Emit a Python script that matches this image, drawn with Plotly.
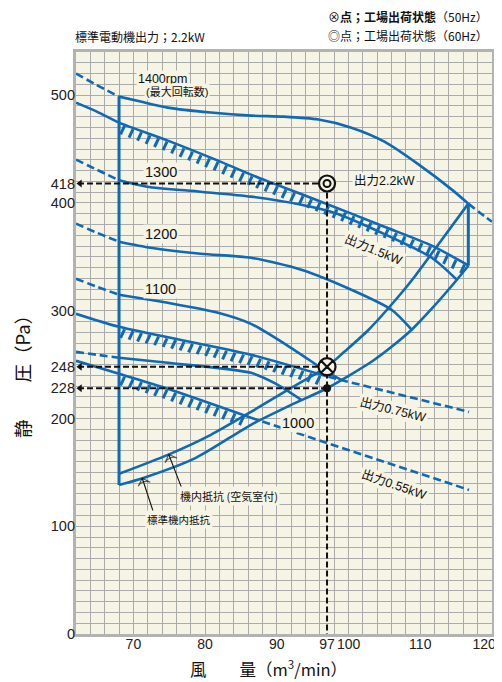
import numpy as np
import plotly.graph_objects as go

# ---------------- data ----------------
X_RANGE = [62, 120]
Y_RANGE = [0, 540]
X_TICKS = [70, 80, 90, 97, 100, 110, 120]
X_TICK_TEXT = ['70', '80', '90', '97', '100', '110', '120\u00a0\u00a0\u00a0\u00a0']
Y_TICKS = [0, 100, 200, 228, 248, 300, 400, 418, 500]

Q_LEFT = 68.0     # operating range limits (m3/min)
Q_RIGHT = 116.7

# rpm curves (air volume m3/min, static pressure Pa)
rpm1400_q = [62, 64.7, 68, 71.0, 74.8, 80.8, 86.4, 91.0, 95.8, 100.4, 105.0, 109.8, 114.4, 116.7, 118.3, 120]
rpm1400_p = [520, 510, 498.6, 494, 488.4, 483.8, 481, 480, 477.3, 469.8, 456.8, 435.5, 412.3, 399.3, 390.9, 382.5]

rpm1300_q = [62, 64.9, 68, 71.9, 79.4, 86.4, 93.4, 98.0, 104.6, 111.6, 115.1]
rpm1300_p = [440.1, 430.8, 421, 415, 410.4, 405.8, 398.3, 390.9, 372.3, 349.1, 328.7]

rpm1200_q = [62, 64.9, 68, 72.4, 79.4, 86.4, 93.4, 100.4, 106.0, 108.8]
rpm1200_p = [380.7, 372.3, 364, 358.4, 352.8, 349.1, 338, 319.4, 300.8, 282.3]

rpm1100_q = [62, 64.9, 68, 74.8, 81.8, 86.4, 92.4, 97.2, 99.0]
rpm1100_p = [329.6, 322.2, 314.8, 307.3, 298.1, 287.8, 263.7, 242.3, 235.8]

rpm1000_q = [62, 64.9, 68, 74.8, 86.4, 89.9, 93.4]
rpm1000_p = [261.8, 259.1, 256.3, 251.6, 242.3, 232.1, 217.3]

# motor output lines
kw15_q = [62, 64.9, 68, 74.8, 81.8, 86.4, 95.8, 105.0, 111.6, 116.7]
kw15_p = [493, 484.7, 474.5, 457.8, 439.2, 426.2, 402, 377.9, 360.3, 342]

kw075_q = [62, 68, 86.4, 97.2]
kw075_p = [297.1, 285, 259.1, 238.6]
kw075_ext_q = [97.2, 107.4, 116.8]
kw075_ext_p = [238.6, 221.9, 206.1]

kw055_q = [62, 68, 74.8, 86.4]
kw055_p = [253.5, 241.4, 227.5, 200.6]
kw055_ext_q = [86.4, 100.4, 116.8]
kw055_ext_p = [200.6, 169.9, 133.7]

# system resistance curves
res_air_q = [68, 74.8, 80.8, 86.4, 92.0, 97, 99.4, 102.8, 107.4, 109.2, 113.0, 116.7]
res_air_p = [148.6, 166.2, 184.8, 206.1, 228.4, 248, 261.8, 282.3, 316.6, 331.5, 365.8, 399.3]

res_std_q = [68, 71.4, 78.7, 86.4, 92.0, 97, 103.2, 106.0, 108.8, 111.6, 114.4, 116.7]
res_std_p = [138.3, 144.8, 163.4, 194.1, 212.6, 228, 252.6, 266.5, 282.3, 301.8, 323.1, 341.7]

# factory operating points
op_q = 97
op50_p = 248
op60_p = 418
std50_p = 228

# ---------------- style ----------------
BLUE = '#0f69b7'
CREAM = '#f6f4e4'
GRID = '#ababab'
FRAME = '#b3b3b3'
BLACK = '#111111'
FONT = 'Liberation Sans Narrow, Liberation Sans, Arial, Noto Sans CJK JP, sans-serif'
JFONT = 'Noto Sans CJK JP, sans-serif'

# page geometry (the page body adds an 8px offset)
OFF = 8
W_FIG, H_FIG = 502 - 2 * OFF, 682 - OFF
ML, MR, MT, MB = 76 - OFF, 2, 52 - OFF, 40 + OFF
PW = W_FIG - ML - MR
PH = H_FIG - MT - MB
PX0, PY1 = ML + OFF, MT + OFF + PH   # plot left / bottom on the page


def paper_x(page_x):
    return (page_x - PX0) / PW


def paper_y(page_y):
    return (PY1 - page_y) / PH


def to_px(q, p):
    return (q - X_RANGE[0]) / (X_RANGE[1] - X_RANGE[0]) * PW, \
        (Y_RANGE[1] - p) / (Y_RANGE[1] - Y_RANGE[0]) * PH


def to_data(x, y):
    return X_RANGE[0] + x / PW * (X_RANGE[1] - X_RANGE[0]), \
        Y_RANGE[1] - y / PH * (Y_RANGE[1] - Y_RANGE[0])


fig = go.Figure()


def add_line(q, p, dash='solid', width=2.6, color=BLUE, shape='spline'):
    fig.add_trace(go.Scatter(
        x=q, y=p, mode='lines',
        line=dict(color=color, width=width, dash=dash, shape=shape, smoothing=0.7),
        hoverinfo='skip', showlegend=False))


def split(q, p, lo, hi):
    left = [(a, b) for a, b in zip(q, p) if a <= lo]
    mid = [(a, b) for a, b in zip(q, p) if lo <= a <= hi]
    right = [(a, b) for a, b in zip(q, p) if a >= hi]
    return left, mid, right


DASH = '8px,4px'

# rpm curves: dashed outside the operating range
for q, p in [(rpm1400_q, rpm1400_p), (rpm1300_q, rpm1300_p), (rpm1200_q, rpm1200_p),
             (rpm1100_q, rpm1100_p), (rpm1000_q, rpm1000_p)]:
    left, mid, right = split(q, p, Q_LEFT, Q_RIGHT)
    if len(left) > 1:
        add_line([a for a, _ in left], [b for _, b in left], dash=DASH)
    if len(mid) > 1:
        add_line([a for a, _ in mid], [b for _, b in mid])
    if len(right) > 1:
        add_line([a for a, _ in right], [b for _, b in right], dash=DASH)

# motor output lines
add_line(kw15_q, kw15_p)
add_line(kw075_q, kw075_p)
add_line(kw075_ext_q, kw075_ext_p, dash=DASH, shape='linear')
add_line(kw055_q, kw055_p)
add_line(kw055_ext_q, kw055_ext_p, dash=DASH, shape='linear')


# hatching below the output limit lines
def hatch(q, p, q0, q1, step=8.5):
    xs, ys = [], []
    pq = [to_px(a, b) for a, b in zip(q, p)]
    px_x = [a for a, _ in pq]
    px_y = [b for _, b in pq]
    x0 = to_px(q0, 0)[0] + 5
    x1 = to_px(q1, 0)[0] - 1
    x = x0
    while x <= x1:
        y = float(np.interp(x, px_x, px_y))
        a = to_data(x + 0.5, y + 1.5)
        b = to_data(x - 3.5, y + 10.0)
        xs += [a[0], b[0], None]
        ys += [a[1], b[1], None]
        x += step
    fig.add_trace(go.Scatter(x=xs, y=ys, mode='lines', line=dict(color=BLUE, width=3),
                             hoverinfo='skip', showlegend=False))


hatch(kw15_q, kw15_p, Q_LEFT, Q_RIGHT)
hatch(kw075_q, kw075_p, Q_LEFT, kw075_q[-1])
hatch(kw055_q, kw055_p, Q_LEFT, kw055_q[-1])

# system resistance curves
add_line(res_air_q, res_air_p)
add_line(res_std_q, res_std_p)

# operating-range boundaries
top_left = float(np.interp(Q_LEFT, rpm1400_q, rpm1400_p))
add_line([Q_LEFT, Q_LEFT], [res_std_p[0], top_left], width=3, shape='linear')
add_line([Q_RIGHT, Q_RIGHT], [res_std_p[-1], float(np.interp(Q_RIGHT, rpm1400_q, rpm1400_p))],
         width=3, shape='linear')

# factory-point reference lines
BDASH = '6px,3px'
add_line([op_q, op_q], [op60_p, Y_RANGE[0]], dash=BDASH, width=2, color=BLACK, shape='linear')
for val in [op60_p, op50_p, std50_p]:
    add_line([op_q, X_RANGE[0] + 0.5], [val, val], dash=BDASH, width=2, color=BLACK, shape='linear')
fig.add_trace(go.Scatter(x=[X_RANGE[0] + 0.55] * 3, y=[op60_p, op50_p, std50_p], mode='markers',
                         marker=dict(symbol='triangle-left', size=7, color=BLACK),
                         hoverinfo='skip', showlegend=False))

# markers
fig.add_trace(go.Scatter(x=[op_q], y=[std50_p], mode='markers',
                         marker=dict(symbol='circle', size=8, color=BLACK),
                         hoverinfo='skip', showlegend=False))
fig.add_trace(go.Scatter(x=[op_q], y=[op50_p], mode='markers',
                         marker=dict(symbol='circle-x', size=17, color=CREAM,
                                     line=dict(color=BLACK, width=2.2)),
                         hoverinfo='skip', showlegend=False))
fig.add_trace(go.Scatter(x=[op_q], y=[op60_p], mode='markers',
                         marker=dict(symbol='circle', size=16, color=CREAM,
                                     line=dict(color=BLACK, width=2.2)),
                         hoverinfo='skip', showlegend=False))
fig.add_trace(go.Scatter(x=[op_q], y=[op60_p], mode='markers',
                         marker=dict(symbol='circle-open', size=7, color=BLACK,
                                     line=dict(color=BLACK, width=2)),
                         hoverinfo='skip', showlegend=False))

# pointer arrows for the resistance-curve labels
arrow_tails = [(76.8, 134.4), (72.78, 113.3)]
arrow_heads = [(74.93, float(np.interp(74.93, res_air_q, res_air_p))),
               (71.24, float(np.interp(71.24, res_std_q, res_std_p)))]
for (tx, ty), (hx, hy) in zip(arrow_tails, arrow_heads):
    fig.add_trace(go.Scatter(x=[tx, hx], y=[ty, hy], mode='lines+markers',
                             line=dict(color=BLACK, width=1.1),
                             marker=dict(symbol=['circle', 'arrow-wide-open'], size=[0, 9],
                                         angleref='previous', color=BLACK,
                                         line=dict(color=BLACK, width=1.1)),
                             hoverinfo='skip', showlegend=False))

# invisible trace for the label axes
fig.add_trace(go.Scatter(x=[X_RANGE[0]], y=[Y_RANGE[0]], xaxis='x2', yaxis='y2', mode='markers',
                         marker=dict(opacity=0), hoverinfo='skip', showlegend=False))

# ---------------- annotations ----------------
ann = []


def label(x, y, text, size=12.5, angle=0, bg=CREAM, family=FONT):
    ann.append(dict(x=x, y=y, xref='x', yref='y', text=text, showarrow=False,
                    font=dict(family=family, size=size, color=BLACK), textangle=angle,
                    bgcolor=bg, borderpad=1, xanchor='center', yanchor='middle'))


label(74.0, 515.3, '1400rpm', size=12.5)
label(76.1, 503.2, '(最大回転数)', size=11)
label(73.8, 428.7, '1300', size=14.5)
label(73.8, 371.4, '1200', size=14.5)
label(73.8, 320.3, '1100', size=14.5)
label(92.9, 196.1, '1000', size=14.5)
label(105.0, 420.6, '出力2.2kW', size=12.5)
label(103.5, 356.0, '出力1.5kW', size=12.5, angle=22)
label(106.2, 207.5, '出力0.75kW', size=12.5, angle=14)
label(106.4, 138.0, '出力0.55kW', size=12.5, angle=19)
label(83.3, 127.6, '機内抵抗 (空気室付)', size=11, family=JFONT)
label(76.3, 105.8, '標準機内抵抗', size=10.5, family=JFONT)

# header texts
ann.append(dict(x=paper_x(73), y=paper_y(36.7), xref='paper', yref='paper',
                xanchor='left', yanchor='middle', showarrow=False,
                text='標準電動機出力；2.2kW', font=dict(family=JFONT, size=12, color=BLACK)))
ann.append(dict(x=paper_x(490), y=paper_y(16.7), xref='paper', yref='paper',
                xanchor='right', yanchor='middle', showarrow=False,
                text='⊗<b>点；工場出荷状態</b>（50Hz）', font=dict(family=JFONT, size=12, color=BLACK)))
ann.append(dict(x=paper_x(490), y=paper_y(35), xref='paper', yref='paper',
                xanchor='right', yanchor='middle', showarrow=False,
                text='◎点；工場出荷状態（60Hz）', font=dict(family=JFONT, size=12, color=BLACK)))

# axis titles
ann.append(dict(x=paper_x(268), y=paper_y(668.5), xref='paper', yref='paper',
                xanchor='center', yanchor='middle', showarrow=False,
                text='風　　量（m<sup>3</sup>/min）', font=dict(family=JFONT, size=16.5, color=BLACK)))
ann.append(dict(x=paper_x(22), y=paper_y(372), xref='paper', yref='paper',
                xanchor='center', yanchor='middle', showarrow=False, textangle=-90,
                text='静　　圧（Pa）', font=dict(family=JFONT, size=18.5, color=BLACK)))

fig.update_layout(
    width=W_FIG, height=H_FIG,
    margin=dict(l=ML, r=MR, t=MT, b=MB, autoexpand=False),
    paper_bgcolor='white', plot_bgcolor=CREAM,
    showlegend=False,
    annotations=ann,
    xaxis=dict(range=X_RANGE, tickmode='linear', tick0=0, dtick=2, showticklabels=False,
               showgrid=True, gridcolor=GRID, gridwidth=1, zeroline=False, ticks='',
               showline=True, linecolor=FRAME, linewidth=3, mirror=True, fixedrange=True,
               automargin=False),
    yaxis=dict(range=Y_RANGE, tickmode='linear', tick0=0, dtick=10, showticklabels=False,
               showgrid=True, gridcolor=GRID, gridwidth=1, zeroline=False, ticks='',
               showline=True, linecolor=FRAME, linewidth=3, mirror=True, fixedrange=True,
               automargin=False),
    xaxis2=dict(range=X_RANGE, overlaying='x', anchor='y2', side='bottom', tickmode='array',
                tickvals=X_TICKS, ticktext=X_TICK_TEXT, showgrid=False,
                zeroline=False, showline=False, ticks='', fixedrange=True, tickangle=0,
                automargin=False, ticklabeloverflow='allow',
                tickfont=dict(family=FONT, size=14, color='#222')),
    yaxis2=dict(range=Y_RANGE, overlaying='y', anchor='x2', side='left', tickmode='array',
                tickvals=Y_TICKS, ticktext=[str(v) for v in Y_TICKS], showgrid=False,
                zeroline=False, showline=False, ticks='', fixedrange=True, tickangle=0,
                automargin=False, ticklabeloverflow='allow',
                tickfont=dict(family=FONT, size=14.5, color='#222')),
)

fig.write_html('out.html')
